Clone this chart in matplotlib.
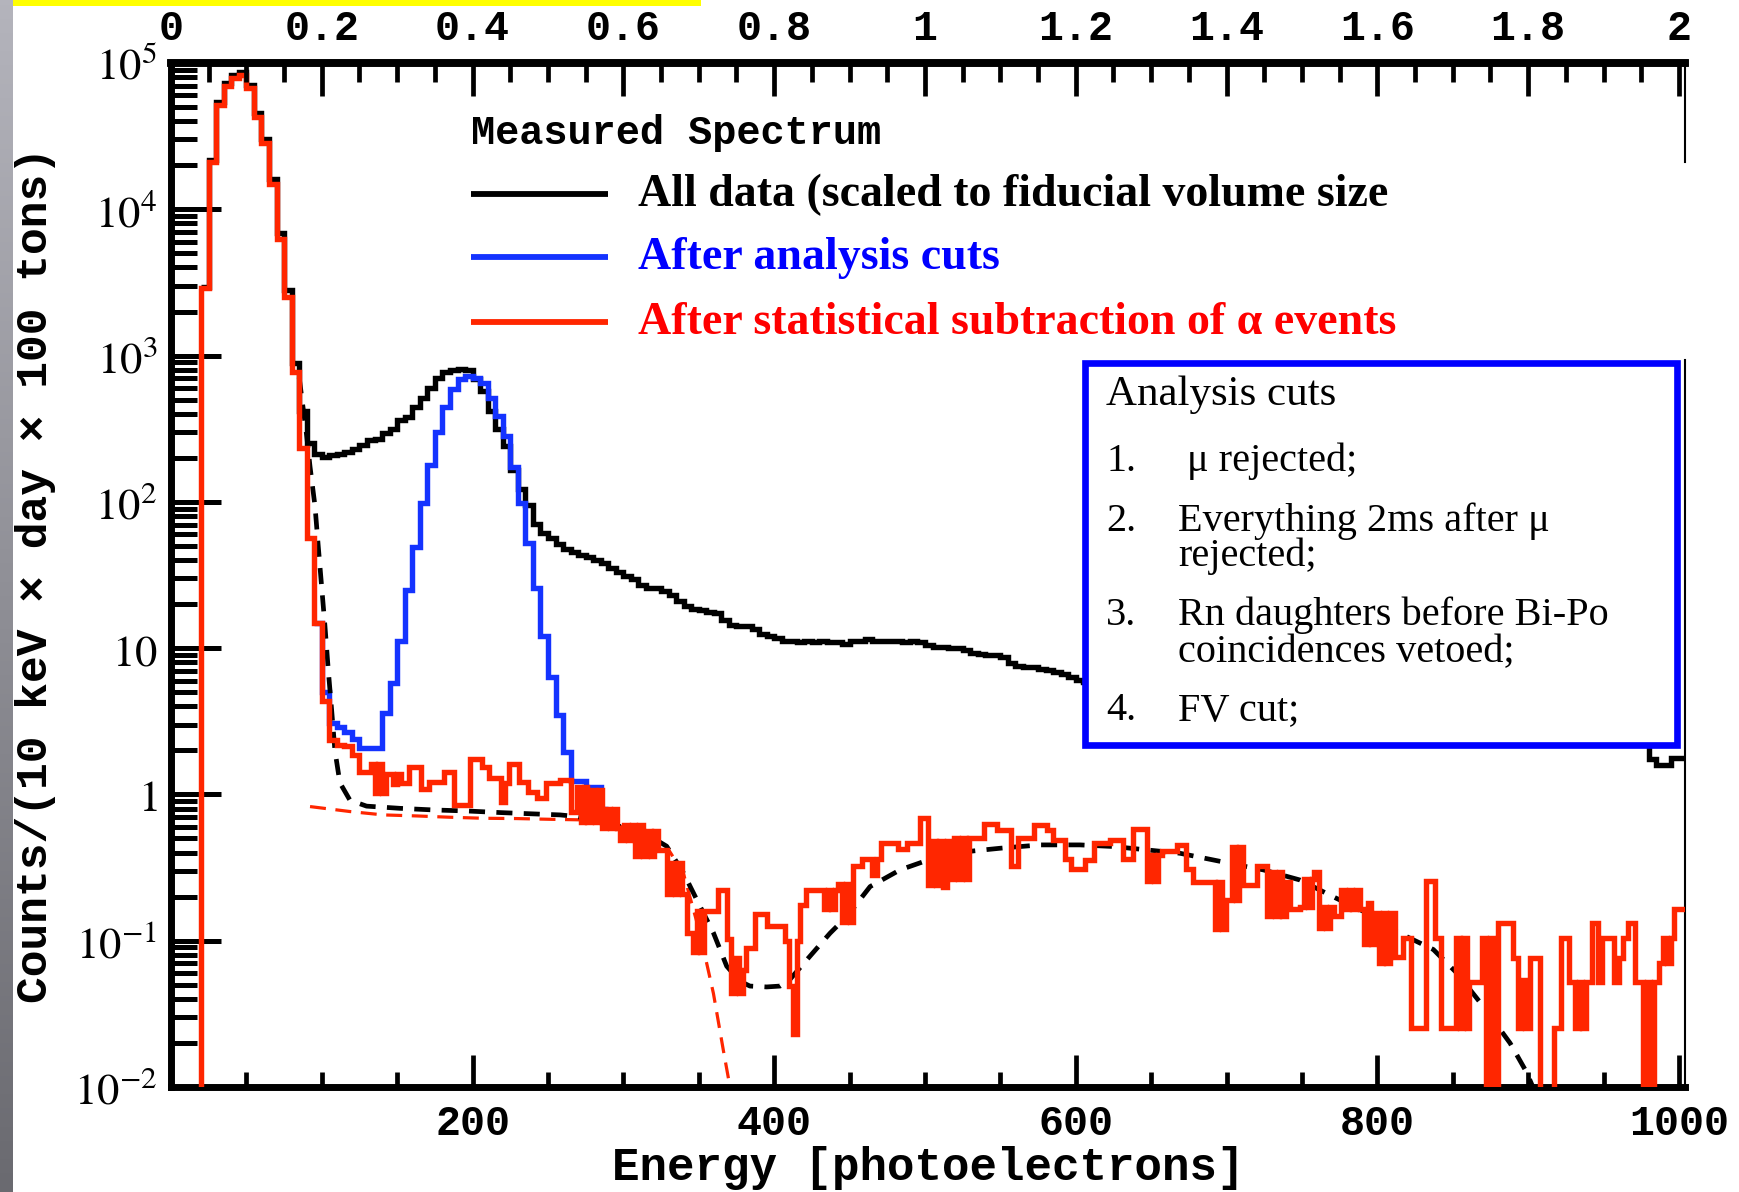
import numpy as np
import matplotlib
import matplotlib.pyplot as plt
from matplotlib.ticker import MultipleLocator, FixedLocator, FuncFormatter, NullFormatter
from matplotlib.patches import Rectangle
from matplotlib.colors import LinearSegmentedColormap

matplotlib.use("Agg")
plt.rcParams["mathtext.fontset"] = "stix"

# ---------------- data (log10 of counts / (10 keV x day x 100 tons)) ----------------
binWidth = 5

# all data, 5 p.e. bins starting at 20 p.e. (600-975 lies behind the cuts box)
blackStart = 20
blackLog = [3.47, 4.34, 4.73, 4.86, 4.92, 4.94, 4.85, 4.66, 4.48, 4.21, 3.84, 3.45, 2.95, 2.62, 2.40, 2.33,
            2.31, 2.32, 2.33, 2.34, 2.36, 2.39, 2.42, 2.43, 2.47, 2.50, 2.56, 2.58, 2.65, 2.71, 2.78, 2.85, 2.89, 2.90, 2.91, 2.90,
            2.84, 2.76, 2.62, 2.50, 2.38, 2.22, 2.09, 1.98, 1.85, 1.79, 1.75, 1.71, 1.68, 1.66, 1.64, 1.62, 1.60, 1.58, 1.55, 1.52,
            1.49, 1.47, 1.43, 1.41, 1.41, 1.39, 1.36, 1.32, 1.29, 1.27, 1.26, 1.25, 1.24, 1.19, 1.16, 1.15, 1.15, 1.13, 1.10, 1.08,
            1.07, 1.05, 1.05, 1.04, 1.05, 1.04, 1.05, 1.04, 1.04, 1.03, 1.05, 1.05, 1.06, 1.05, 1.05, 1.05, 1.05, 1.04, 1.05, 1.04,
            1.02, 1.01, 1.01, 1.00, 1.00, 0.99, 0.97, 0.96, 0.95, 0.95, 0.94, 0.90, 0.88, 0.87, 0.87, 0.86, 0.85, 0.84, 0.82, 0.80,
            0.78, 0.77, 0.77, 0.76, 0.76, 0.75, 0.75, 0.74, 0.74, 0.73, 0.73, 0.72, 0.71, 0.71, 0.70, 0.70, 0.69, 0.68, 0.68, 0.67,
            0.66, 0.66, 0.65, 0.64, 0.64, 0.63, 0.62, 0.62, 0.61, 0.60, 0.60, 0.59, 0.58, 0.58, 0.57, 0.56, 0.56, 0.55, 0.54, 0.54,
            0.53, 0.52, 0.52, 0.51, 0.50, 0.50, 0.49, 0.48, 0.48, 0.47, 0.46, 0.46, 0.45, 0.45, 0.44, 0.44, 0.43, 0.43, 0.43, 0.43,
            0.42, 0.42, 0.42, 0.42, 0.41, 0.41, 0.41, 0.41, 0.41, 0.40, 0.40, 0.40, 0.40, 0.40, 0.40, 0.40,
            0.24, 0.20, 0.20, 0.25, 0.25]

# after analysis cuts (only where it differs from the red curve)
blueStart = 95
blueLog = [1.17, 0.70, 0.49, 0.46, 0.43, 0.38, 0.32, 0.32, 0.32, 0.56, 0.76, 1.05, 1.40, 1.69, 1.99, 2.25, 2.48, 2.65,
           2.77, 2.84, 2.86, 2.85, 2.81, 2.71, 2.59, 2.45, 2.24, 1.99, 1.72, 1.41, 1.08, 0.80, 0.54, 0.29, 0.09, 0.09,
           0.05, 0.05, -0.10]

# after statistical alpha subtraction: peak part on 5 p.e. bins, tail as (left edge, value)
redStart = 20
redPeakLog = [3.46, 4.32, 4.71, 4.84, 4.90, 4.92, 4.83, 4.63, 4.45, 4.17, 3.80, 3.40, 2.89, 2.37, 1.75, 1.17,
              0.64, 0.37, 0.34, 0.33, 0.27, 0.15]
redTail = [(130, 0.15), (132.5, 0.21), (135, 0.01), (137.5, 0.21), (140, 0.01), (142.5, 0.14), (147.5, 0.07),
           (150, 0.14), (152.5, 0.08), (157.5, 0.19), (166, 0.04), (171, 0.085), (181, 0.154), (188, -0.07),
           (198, 0.245), (206, 0.19), (211, 0.11), (219, -0.05), (221.5, 0.08), (224, 0.21), (231, 0.085),
           (237, 0.02), (243, -0.025), (249, 0.076), (258, 0.10), (265, -0.117), (269.5, 0.05), (272, -0.19),
           (274, 0.05), (276, -0.19), (278.5, 0.03), (281, -0.19), (283.5, 0.03), (286, -0.23), (288.5, -0.10),
           (291, -0.23), (293.5, -0.10), (296, -0.23), (298, -0.31), (300.5, -0.21), (303, -0.31), (305.5, -0.21),
           (308, -0.42), (310.5, -0.21), (313, -0.42), (315.5, -0.25), (318, -0.42), (320.5, -0.25), (323, -0.38),
           (329, -0.68), (331.5, -0.47), (334, -0.68), (336.5, -0.47), (339, -0.68), (342, -0.95), (346, -1.08),
           (348.5, -0.80), (351, -1.08), (353.5, -0.80), (355, -0.80), (363, -0.65), (369, -0.99), (371.5, -1.36),
           (374, -1.12), (376.5, -1.36), (379, -1.20), (381, -1.05), (387, -0.82), (395, -0.90), (407, -1.00),
           (410, -1.31), (412.5, -1.64), (415, -1.00), (417, -0.755), (421, -0.652), (433, -0.78), (435.5, -0.65),
           (438, -0.78), (440.5, -0.65), (442, -0.61), (445, -0.87), (447.5, -0.61), (450, -0.87), (452, -0.49),
           (458, -0.44), (465, -0.55), (468, -0.44), (471, -0.333), (482, -0.37), (488, -0.33), (497, -0.163),
           (502, -0.62), (504.5, -0.32), (507, -0.62), (509.5, -0.32), (512, -0.63), (514.5, -0.32), (517, -0.58),
           (519.5, -0.30), (522, -0.58), (524.5, -0.30), (527, -0.58), (529.5, -0.30), (532, -0.30), (539, -0.20),
           (548, -0.245), (557, -0.49), (562, -0.30), (572, -0.21), (581, -0.245), (585, -0.31), (593, -0.44),
           (597, -0.51), (606, -0.45), (612, -0.33), (623, -0.31), (631, -0.44), (638, -0.235), (647, -0.59),
           (649.5, -0.415), (652, -0.59), (654.5, -0.415), (657, -0.39), (667, -0.345), (673, -0.51), (678, -0.60),
           (692, -0.92), (694.5, -0.60), (697, -0.92), (699.5, -0.72), (701, -0.72), (703.5, -0.36), (706, -0.72),
           (708.5, -0.36), (711, -0.62), (720, -0.49), (722, -0.49), (727, -0.83), (729.5, -0.53), (732, -0.83),
           (734.5, -0.53), (737, -0.83), (739.5, -0.60), (742, -0.78), (749, -0.77), (751.5, -0.58), (754, -0.77),
           (756.5, -0.58), (758, -0.53), (761, -0.91), (763.5, -0.77), (766, -0.91), (768.5, -0.77), (771, -0.83),
           (776, -0.65), (778.5, -0.78), (781, -0.65), (783.5, -0.78), (786, -0.65), (788.5, -0.78), (791, -1.02),
           (793.5, -0.74), (796, -1.02), (798.5, -0.81), (801, -1.15), (803.5, -0.81), (806, -1.15), (808.5, -0.81),
           (812, -1.11), (817, -0.98), (822, -1.60), (832, -0.595), (838, -0.98), (842, -1.60), (852, -0.98),
           (854.5, -1.60), (857, -0.98), (859.5, -1.60), (861, -1.28), (867, -1.28), (869.5, -0.98), (872, -3.0),
           (874.5, -0.98), (877, -3.0), (880, -0.88), (890, -1.12), (893, -1.60), (895.5, -1.27), (898, -1.60),
           (901, -1.12), (908, -3.0), (917, -1.60), (922, -0.98), (927, -1.28), (931, -1.60), (933.5, -1.28),
           (936, -1.60), (938.5, -1.28), (942, -0.88), (946, -1.28), (949, -0.98), (952, -0.98), (957, -1.28),
           (960, -1.12), (963, -0.98), (966, -0.88), (971, -1.28), (976, -3.0), (978.5, -1.28), (981, -3.0),
           (983.5, -1.28), (987, -1.15), (989.5, -0.98), (992, -1.15), (994.5, -0.98), (997, -0.78)]
redEnd = 1004

# fitted curves (energy, log10)
fitTotal = [(85, 2.85), (90, 2.45), (92.2, 2.24), (95.5, 1.97), (97.7, 1.69), (99.9, 1.42), (102.1, 1.15),
            (104.3, 0.85), (106.5, 0.58), (108.7, 0.30), (112, 0.08), (118.7, -0.04), (129.7, -0.08),
            (151.8, -0.095), (173.9, -0.106), (196, -0.113), (218.2, -0.124), (240.3, -0.133), (258, -0.14),
            (269, -0.151), (284.5, -0.186), (306.6, -0.24), (317.6, -0.286), (328.7, -0.354), (339.8, -0.536),
            (350.8, -0.764), (359.7, -0.946), (368.5, -1.174), (377.3, -1.277), (383.9, -1.31), (395, -1.316),
            (404, -1.31), (410, -1.27), (421.6, -1.131), (437, -0.949), (448.1, -0.835), (463.6, -0.63),
            (483.4, -0.516), (505.5, -0.436), (527.6, -0.391), (549.7, -0.368), (576.3, -0.345), (602.8, -0.345),
            (624.9, -0.356), (647, -0.379), (669, -0.402), (691.2, -0.448), (713.3, -0.494), (724.4, -0.516),
            (748.7, -0.585), (770.8, -0.70), (792.9, -0.81), (815, -0.95), (837.1, -1.06), (852.6, -1.22),
            (870.3, -1.45), (888, -1.70), (899, -1.90), (903.5, -2.01)]
fitLowPart = [(92.2, -0.083), (118.7, -0.117), (140.8, -0.14), (162.9, -0.147), (185, -0.156), (207.1, -0.163),
              (229.2, -0.165), (251.3, -0.17), (273.4, -0.174), (295.5, -0.209), (317.6, -0.288), (328.7, -0.357),
              (339.8, -0.54), (350.8, -0.95), (359.7, -1.36), (366.3, -1.75), (370.7, -2.0), (372, -2.1)]

yTicks = [1e-2, 1e-1, 1, 10, 1e2, 1e3, 1e4, 1e5]
yTickLabels = ["$10^{-2}$", "$10^{-1}$", "$1$", "$10$", "$10^{2}$", "$10^{3}$", "$10^{4}$", "$10^{5}$"]
xTicks = [200, 400, 600, 800, 1000]
peToMeV = 1 / 500.0   # top axis: energy in MeV

legendTitle = "Measured Spectrum"
legendLabels = ["All data (scaled to fiducial volume size",
                "After analysis cuts",
                "After statistical subtraction of \u03b1 events"]
cutsTitle = "Analysis cuts"
cutsItems = [("1.", ["\u03bc rejected;"]),
             ("2.", ["Everything 2ms after \u03bc", "rejected;"]),
             ("3.", ["Rn daughters before Bi-Po", "coincidences vetoed;"]),
             ("4.", ["FV cut;"])]

# ---------------- colours / fonts ----------------
cBlack = "black"
cBlue = "#1433ff"
cRed = "#ff2600"
mono = "Liberation Mono"
serif = "Liberation Serif"

# ---------------- build histograms ----------------
blackEdges = blackStart + binWidth * np.arange(len(blackLog) + 1)
blueEdges = blueStart + binWidth * np.arange(len(blueLog) + 1)
redEdges = np.concatenate(([0.0], redStart + binWidth * np.arange(len(redPeakLog)),
                           [e for e, v in redTail], [redEnd]))
redLog = np.concatenate(([-3.0], redPeakLog, [v for e, v in redTail]))

fig = plt.figure(figsize=(17.39, 11.92), dpi=100)
ax = fig.add_axes([171 / 1739, 105 / 1192, 1514 / 1739, 1024 / 1192])
ax.set_yscale("log")
ax.set_xlim(0, redEnd)
ax.set_ylim(1e-2, 1e5)

lw = 3.9
ax.stairs(10 ** np.array(blackLog), blackEdges, baseline=None, color=cBlack, linewidth=lw,
          joinstyle="miter", zorder=2)
ax.stairs(10 ** np.array(blueLog), blueEdges, baseline=None, color=cBlue, linewidth=lw,
          joinstyle="miter", zorder=3)
fx, fy = zip(*fitTotal)
ax.plot(fx, 10 ** np.array(fy), color=cBlack, linewidth=3.4, dashes=(3.4, 2.4), zorder=4)
fx, fy = zip(*fitLowPart)
ax.plot(fx, 10 ** np.array(fy), color=cRed, linewidth=2.3, dashes=(5, 3), zorder=3.5)
ax.stairs(10 ** redLog, redEdges, baseline=None, color=cRed, linewidth=lw,
          joinstyle="miter", zorder=5)

# ---------------- axes styling ----------------
for side, w in [("left", 5), ("bottom", 5), ("top", 5.5)]:
    ax.spines[side].set_linewidth(w)
ax.spines["right"].set_visible(False)
# right frame line is broken behind the slide overlay
ax.plot([1, 1], [0, 0.71], transform=ax.transAxes, color="black", linewidth=1.5, clip_on=False)
ax.plot([1, 1], [0.903, 1], transform=ax.transAxes, color="black", linewidth=1.5, clip_on=False)

ax.yaxis.set_major_locator(FixedLocator(yTicks))
ax.yaxis.set_minor_locator(FixedLocator([m * 10.0 ** d for d in range(-2, 5) for m in range(2, 10)]))
ax.yaxis.set_minor_formatter(NullFormatter())
ax.set_yticklabels(yTickLabels, fontsize=32)
ax.tick_params(axis="y", which="major", direction="in", length=36, width=3.6, pad=10, right=False)
ax.tick_params(axis="y", which="minor", direction="in", length=19, width=3.6, right=False)

ax.xaxis.set_major_locator(FixedLocator(xTicks))
ax.xaxis.set_minor_locator(MultipleLocator(50))
ax.tick_params(axis="x", which="major", direction="in", length=23, width=3.4, pad=12, top=False)
ax.tick_params(axis="x", which="minor", direction="in", length=11, width=3.4, top=False)
for lab in ax.get_xticklabels():
    lab.set_fontfamily(mono)
    lab.set_fontweight("bold")
    lab.set_fontsize(30)

# top axis in MeV
top = ax.twiny()
top.set_xlim(0, redEnd * peToMeV)
for side in ["left", "right", "bottom"]:
    top.spines[side].set_visible(False)
top.spines["top"].set_linewidth(5.5)
top.xaxis.set_major_locator(MultipleLocator(0.2))
top.xaxis.set_minor_locator(MultipleLocator(0.05))
top.xaxis.set_major_formatter(FuncFormatter(lambda v, p: "%g" % round(v, 2)))
top.tick_params(axis="x", which="major", direction="in", length=24, width=3.4, pad=10)
top.tick_params(axis="x", which="minor", direction="in", length=14, width=3.4)
for lab in top.get_xticklabels():
    lab.set_fontfamily(mono)
    lab.set_fontweight("bold")
    lab.set_fontsize(30)

ax.set_xlabel("Energy [photoelectrons]", fontfamily=mono, fontweight="bold", fontsize=33, va="center")
ax.xaxis.set_label_coords(0.5, -0.079)
ax.set_ylabel("Counts/(10 keV \u00d7 day \u00d7 100 tons)", fontfamily=mono, fontweight="bold",
              fontsize=32, va="center")
ax.yaxis.set_label_coords(-0.0898, 0.5)

# ---------------- legend ----------------
ax.text(0.198, 0.932, legendTitle, transform=ax.transAxes, fontfamily=mono, fontweight="bold",
        fontsize=29, ha="left", va="center")
rowY = [0.872, 0.8105, 0.747]
for y, lab, col, tcol in zip(rowY, legendLabels, [cBlack, cBlue, cRed], ["black", "#0000ff", "#ff0000"]):
    ax.plot([0.198, 0.2886], [y, y], transform=ax.transAxes, color=col, linewidth=4.2,
            solid_capstyle="butt", zorder=6)
    ax.text(0.3085, y - 0.001, lab, transform=ax.transAxes, fontfamily=serif, fontweight="bold",
            fontsize=33, color=tcol, ha="left", va="center", zorder=6)

# ---------------- analysis cuts box ----------------
ax.add_patch(Rectangle((0.6037, 0.334), 0.391, 0.373, transform=ax.transAxes, facecolor="white",
                       edgecolor="#0000ff", linewidth=4.8, zorder=7))
ax.text(0.6176, 0.6765, cutsTitle, transform=ax.transAxes, fontfamily=serif, fontsize=31,
        ha="left", va="center", zorder=8)
itemY = [[0.6113], [0.5525, 0.5185], [0.4605, 0.4245], [0.3675]]
for (num, lines), ys in zip(cutsItems, itemY):
    ax.text(0.6176, ys[0], num, transform=ax.transAxes, fontfamily=serif, fontsize=29,
            ha="left", va="center", zorder=8)
    x0 = 0.671 if num == "1." else 0.6651
    for line, y in zip(lines, ys):
        ax.text(x0, y, line, transform=ax.transAxes, fontfamily=serif, fontsize=29,
                ha="left", va="center", zorder=8)

# ---------------- slide decorations ----------------
strip = fig.add_axes([0, 0, 13 / 1739, 1])
grad = np.linspace(0, 1, 256).reshape(-1, 1)
strip.imshow(grad, aspect="auto", extent=[0, 1, 0, 1],
             cmap=LinearSegmentedColormap.from_list("slide", ["#b4b4bc", "#6a6a70"]))
strip.axis("off")
fig.patches.append(Rectangle((13 / 1739, 1 - 6 / 1192), 688 / 1739, 6 / 1192, transform=fig.transFigure,
                             facecolor="#ffff00", edgecolor="none"))

fig.savefig("out.png", dpi=100)
